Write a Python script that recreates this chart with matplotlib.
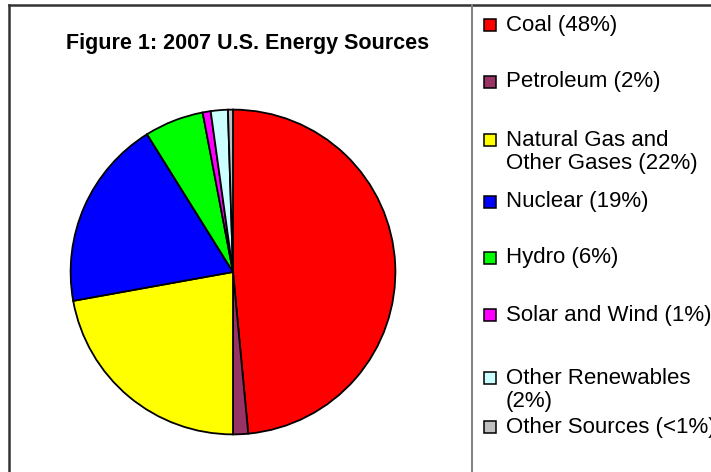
import matplotlib
matplotlib.use("Agg")
import matplotlib.pyplot as plt
from matplotlib.patches import Rectangle
from matplotlib.lines import Line2D

plt.rcParams['font.family'] = ['Liberation Sans', 'DejaVu Sans']

title = "Figure 1: 2007 U.S. Energy Sources"
categories = ["Coal", "Petroleum", "Natural Gas and Other Gases", "Nuclear",
              "Hydro", "Solar and Wind", "Other Renewables", "Other Sources"]
values = [48.6, 1.5, 22.2, 19.0, 5.9, 0.8, 1.7, 0.5]
legend_labels = ["Coal (48%)", "Petroleum (2%)", "Natural Gas and\nOther Gases (22%)",
                 "Nuclear (19%)", "Hydro (6%)", "Solar and Wind (1%)",
                 "Other Renewables\n(2%)", "Other Sources (<1%)"]
colors = ["#FF0000", "#993366", "#FFFF00", "#0000FF", "#00FF00", "#FF00FF",
          "#CCFFFF", "#C0C0C0"]

W, H = 711, 472
fig = plt.figure(figsize=(W / 100, H / 100), dpi=100)

def fx(px):
    return px / W

def fy(py):
    return 1 - py / H

# frame lines
fig.add_artist(Line2D([fx(9), fx(9)], [fy(5), fy(472)], color="#333333", lw=1.8))
fig.add_artist(Line2D([fx(9), fx(711)], [fy(5), fy(5)], color="#333333", lw=1.8))
fig.add_artist(Line2D([fx(472), fx(472)], [fy(5), fy(472)], color="#808080", lw=1.4))

# pie
cx, cy, r = 233, 272, 164
ax = fig.add_axes([fx(cx - r), fy(cy + r), 2 * r / W, 2 * r / H])
ax.pie(values, colors=colors, startangle=90, counterclock=False, radius=1,
       wedgeprops=dict(edgecolor="black", linewidth=1.3))
ax.set_xlim(-1.01, 1.01)
ax.set_ylim(-1.01, 1.01)
ax.set_aspect("equal")
ax.axis("off")

fig.text(fx(248), fy(44), title, ha="center", va="center",
         fontsize=15.5, fontweight="bold")

# legend
entry_y = [25, 82, 140, 202, 258, 315, 378, 427]
for lab, col, y in zip(legend_labels, colors, entry_y):
    fig.add_artist(Rectangle((fx(484), fy(y + 6)), 12 / W, 12 / H,
                             facecolor=col, edgecolor="black", lw=1.1))
    fig.text(fx(506), fy(y - 10.5), lab, ha="left", va="top", fontsize=16,
             linespacing=1.18)

fig.savefig("out.png", dpi=100)
